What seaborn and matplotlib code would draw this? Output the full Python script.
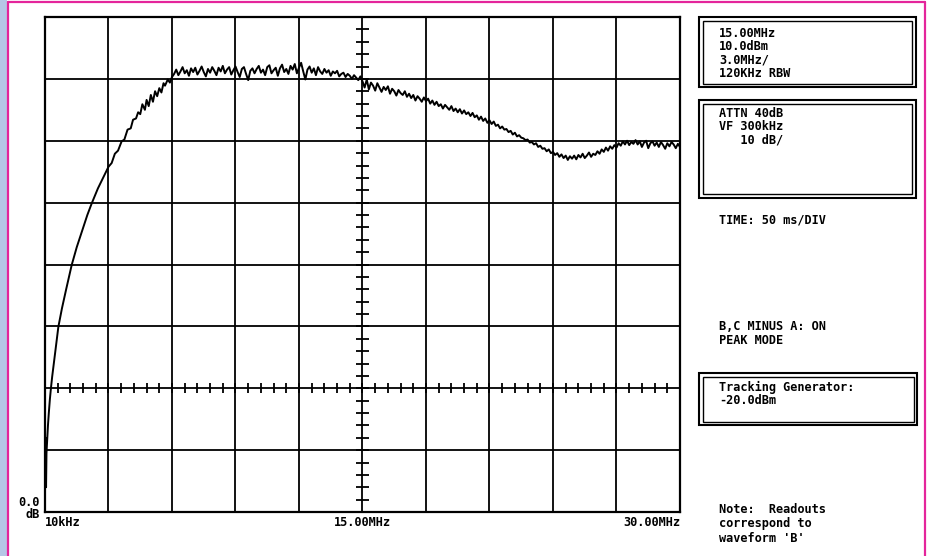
import numpy as np
import pandas as pd
import matplotlib
matplotlib.use("Agg")
import matplotlib.pyplot as plt
import seaborn as sns
from matplotlib.patches import Rectangle
from matplotlib.lines import Line2D

# ---------------- data ----------------
rise_freq_mhz = [0.03, 0.05, 0.07, 0.10, 0.14, 0.18, 0.23, 0.28, 0.34, 0.40,
                 0.50, 0.63, 0.80, 1.00, 1.26, 1.50, 1.80, 2.00, 2.21, 2.50,
                 2.80, 3.00, 3.15, 3.30, 3.45, 3.62, 3.75, 3.90, 4.05, 4.16,
                 4.30, 4.40, 4.50, 4.60, 4.72, 4.80, 4.90, 5.00, 5.10, 5.20,
                 5.30, 5.40, 5.50, 5.60, 5.67, 5.80, 5.90, 6.00]
rise_level_db = [12.0, 4.0, 9.5, 11.5, 14.0, 16.0, 18.2, 20.0, 21.9, 23.6,
                 26.3, 29.9, 32.9, 36.0, 39.9, 42.8, 45.9, 48.0, 49.9, 52.3,
                 54.4, 55.8, 56.4, 57.9, 58.4, 59.9, 60.2, 61.8, 62.0, 63.4,
                 63.6, 64.6, 64.3, 65.9, 65.0, 66.6, 65.6, 67.4, 66.3, 68.0,
                 67.2, 68.5, 67.8, 69.3, 68.9, 69.9, 69.4, 70.3]
sweep_level_db = [
    70.8, 71.5, 70.6, 71.2, 71.9, 70.9, 71.4, 70.5, 71.7, 71.1,   # 6.1 - 7.0
    71.8, 70.7, 71.3, 72.0, 71.1, 70.4, 71.6, 71.0, 71.9, 71.3,   # 7.1 - 8.0
    70.6, 71.8, 71.2, 72.1, 70.9, 71.5, 71.9, 70.7, 71.4, 72.0,   # 8.1 - 9.0
    71.1, 70.3, 71.6, 71.9, 70.8, 69.8, 71.3, 71.7, 70.9, 71.6,   # 9.1 - 10.0
    72.1, 71.0, 71.5, 70.6, 71.9, 72.2, 70.9, 71.4, 71.8, 70.5,   # 10.1 - 11.0
    71.7, 72.3, 71.1, 71.6, 70.8, 72.1, 71.5, 72.4, 70.9, 71.8,   # 11.1 - 12.0
    72.6, 71.2, 69.9, 71.5, 72.0, 71.0, 71.7, 70.6, 71.9, 71.2,   # 12.1 - 13.0
    70.8, 71.6, 71.0, 71.4, 70.5, 71.2, 70.9, 71.3, 70.4, 70.8,   # 13.1 - 14.0
    71.0, 70.3, 70.8, 70.5, 70.0, 70.6, 70.2, 69.8, 70.4, 69.6,   # 14.1 - 15.0
    68.6, 69.9, 68.3, 69.4, 68.9, 68.1, 69.3, 68.6, 67.9, 68.7,   # 15.1 - 16.0
    68.2, 68.8, 67.6, 68.4, 68.0, 67.3, 68.2, 67.7, 67.4, 68.0,   # 16.1 - 17.0
    67.1, 67.6, 66.9, 67.4, 66.5, 67.2, 66.8, 66.3, 67.0, 66.4,   # 17.1 - 18.0
    66.8, 66.0, 66.5, 65.8, 66.3, 65.6, 65.9, 65.2, 65.8, 65.4,   # 18.1 - 19.0
    65.0, 65.6, 64.8, 65.2, 64.6, 65.1, 64.4, 64.9, 64.3, 64.6,   # 19.1 - 20.0
    64.0, 64.5, 63.8, 64.1, 63.4, 63.9, 63.2, 63.6, 62.9, 63.3,   # 20.1 - 21.0
    62.7, 63.1, 62.4, 62.6, 62.0, 62.3, 61.8, 61.9, 61.4, 61.6,   # 21.1 - 22.0
    61.0, 61.3, 60.7, 60.9, 60.5, 60.4, 60.1, 60.2, 59.7, 59.8,   # 22.1 - 23.0
    59.4, 59.6, 59.0, 59.2, 58.7, 58.8, 58.3, 58.6, 58.0, 58.2,   # 23.1 - 24.0
    57.7, 58.0, 57.4, 57.8, 57.2, 57.6, 56.9, 57.5, 57.1, 57.6,   # 24.1 - 25.0
    57.0, 57.7, 57.3, 57.9, 57.2, 57.6, 58.1, 57.4, 57.9, 57.7,   # 25.1 - 26.0
    58.3, 57.9, 58.6, 58.2, 58.9, 58.4, 59.1, 58.7, 59.3, 58.9,   # 26.1 - 27.0
    59.6, 59.2, 59.9, 59.4, 60.0, 59.3, 59.8, 59.5, 60.1, 59.4,   # 27.1 - 28.0
    59.9, 59.0, 59.7, 60.0, 58.8, 59.6, 59.9, 59.2, 59.7, 59.0,   # 28.1 - 29.0
    59.8, 59.3, 58.7, 59.6, 59.1, 59.8, 59.4, 58.8, 59.5, 59.0,   # 29.1 - 30.0
]
sweep_freq_mhz = list(np.round(np.linspace(6.1, 30.0, len(sweep_level_db)), 2))

x_tick_positions = [0, 15, 30]
x_tick_labels = ["10kHz", "15.00MHz", "30.00MHz"]
y_label_lines = ["0.0", "dB"]

readout_box1 = ["15.00MHz", "10.0dBm", "3.0MHz/", "120KHz RBW"]
readout_box2 = ["ATTN 40dB", "VF 300kHz", "   10 dB/"]
time_text = "TIME: 50 ms/DIV"
mode_text = ["B,C MINUS A: ON", "PEAK MODE"]
tracking_box = ["Tracking Generator:", "-20.0dBm"]
note_text = ["Note:  Readouts", "correspond to", "waveform 'B'"]

df = pd.DataFrame({
    "freq": rise_freq_mhz + sweep_freq_mhz,
    "level": rise_level_db + sweep_level_db,
})

# ---------------- figure ----------------
W, H = 928, 556
sns.set_theme(style="white")
plt.rcParams["font.family"] = ["DejaVu Sans Mono", "DejaVu Sans"]
fig = plt.figure(figsize=(W / 100, H / 100), dpi=100)
fig.patch.set_facecolor("white")

def fx(x):
    return x / W

def fy(y):
    return 1 - y / H

# page decoration: blue strip and magenta frame
fig.add_artist(Rectangle((0, 0), fx(7), 1, transform=fig.transFigure,
                         facecolor="#b6c7e6", edgecolor="none", zorder=0))
mag = "#e4259b"
fig.add_artist(Line2D([fx(8), fx(8)], [0, fy(2)], transform=fig.transFigure, color=mag, lw=1.6))
fig.add_artist(Line2D([fx(8), fx(925)], [fy(2), fy(2)], transform=fig.transFigure, color=mag, lw=1.6))
fig.add_artist(Line2D([fx(925), fx(925)], [0, fy(2)], transform=fig.transFigure, color=mag, lw=1.6))

L, R, T, B = 45, 680, 17, 512
ax = fig.add_axes([fx(L), fy(B), fx(R) - fx(L), fy(T) - fy(B)])
ax.set_xlim(0, 30)
ax.set_ylim(0, 80)
ax.set_xticks(np.arange(0, 30.1, 3))
ax.set_yticks(np.arange(0, 80.1, 10))
ax.set_xticklabels([])
ax.set_yticklabels([])
ax.tick_params(length=0)
ax.grid(True, color="black", lw=1.3)
for s in ax.spines.values():
    s.set_color("black")
    s.set_linewidth(1.6)

# centre graticule ticks
ax.hlines(np.arange(0, 80.1, 2), 15 - 0.3, 15 + 0.3, color="black", lw=1.3)
ax.vlines(np.arange(0, 30.1, 0.6), 20 - 0.8, 20 + 0.8, color="black", lw=1.3)

sns.lineplot(data=df, x="freq", y="level", ax=ax, color="black", lw=1.4,
             sort=False, zorder=5)
ax.set_xlabel("")
ax.set_ylabel("")

txt = dict(fontsize=8.6, fontweight="bold", color="black", va="baseline")

# axis labels
fig.text(fx(40), fy(506), y_label_lines[0], ha="right", **txt)
fig.text(fx(40), fy(518), y_label_lines[1], ha="right", **txt)
for pos, lab in zip(x_tick_positions, x_tick_labels):
    xp = L + (R - L) * pos / 30
    ha = {0: "left", 15: "center", 30: "right"}[pos]
    fig.text(fx(xp), fy(526), lab, ha=ha, **txt)

# double-line boxes
def dbl_box(x0, y0, x1, y1):
    fig.add_artist(Rectangle((fx(x0), fy(y1)), fx(x1) - fx(x0), fy(y0) - fy(y1),
                             transform=fig.transFigure, fill=False, ec="black", lw=1.5))
    d = 3.5
    fig.add_artist(Rectangle((fx(x0 + d), fy(y1 - d)), fx(x1 - d) - fx(x0 + d),
                             fy(y0 + d) - fy(y1 - d),
                             transform=fig.transFigure, fill=False, ec="black", lw=1.0))

dbl_box(699, 17, 916, 87)
dbl_box(699, 100, 916, 198)
dbl_box(699, 373, 917, 425)

TX = 719
for i, s in enumerate(readout_box1):
    fig.text(fx(TX), fy(36.7 + 13.3 * i), s, ha="left", **txt)
for i, s in enumerate(readout_box2):
    fig.text(fx(TX), fy(117 + 13.5 * i), s, ha="left", **txt)
fig.text(fx(TX), fy(224), time_text, ha="left", **txt)
for i, s in enumerate(mode_text):
    fig.text(fx(TX), fy(330 + 14 * i), s, ha="left", **txt)
for i, s in enumerate(tracking_box):
    fig.text(fx(TX), fy(391 + 12.5 * i), s, ha="left", **txt)
for i, s in enumerate(note_text):
    fig.text(fx(TX), fy(513 + 14.5 * i), s, ha="left", **txt)

fig.savefig("out.png", dpi=100)
